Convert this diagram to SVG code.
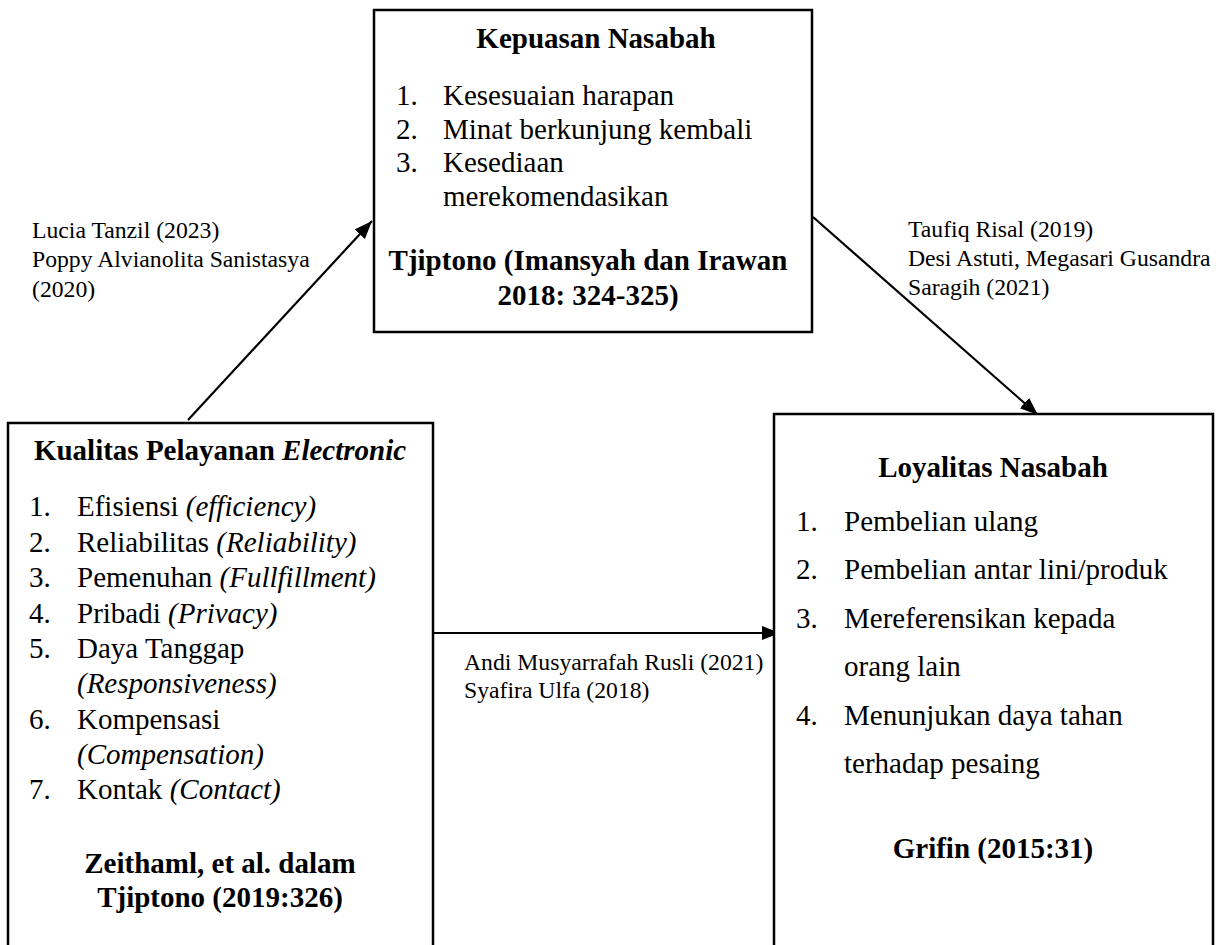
<svg xmlns="http://www.w3.org/2000/svg" width="1228" height="945" viewBox="0 0 1228 945">
<style>
text{font-family:"Liberation Serif","Times New Roman",serif;fill:#000}
.t{font-size:29px;font-weight:bold;text-anchor:middle}
.l{font-size:29px}
.s{font-size:23.7px}
.i{font-style:italic}
.box{fill:#fff;stroke:#000;stroke-width:2.5}
.c{stroke:#000;stroke-width:2.2;fill:none}
</style>
<defs>
<marker id="ah" markerUnits="userSpaceOnUse" markerWidth="20" markerHeight="16" refX="18" refY="7" orient="auto">
<path d="M0,0 L18,7 L0,14 Z" fill="#000"/>
</marker>
</defs>
<rect width="1228" height="945" fill="#fff"/>
<g id="connectors">
<line class="c" x1="188" y1="420" x2="372" y2="221" marker-end="url(#ah)"/>
<line class="c" x1="813" y1="217" x2="1038" y2="415" marker-end="url(#ah)"/>
<line class="c" x1="433" y1="633" x2="780" y2="633" marker-end="url(#ah)"/>
</g>
<g id="label-1">
<text class="s" x="32" y="238">Lucia Tanzil (2023)</text>
<text class="s" x="32" y="267">Poppy Alvianolita Sanistasya</text>
<text class="s" x="32" y="297">(2020)</text>
</g>
<g id="label-2">
<text class="s" x="908" y="237">Taufiq Risal (2019)</text>
<text class="s" x="908" y="266">Desi Astuti, Megasari Gusandra</text>
<text class="s" x="908" y="295">Saragih (2021)</text>
</g>
<g id="label-3">
<text class="s" x="464" y="670">Andi Musyarrafah Rusli (2021)</text>
<text class="s" x="464" y="698">Syafira Ulfa (2018)</text>
</g>
<g id="node-kepuasan">
<rect class="box" x="374" y="10" width="438" height="322"/>
<text class="t" x="596" y="48">Kepuasan Nasabah</text>
<text class="l" x="396" y="105">1.</text><text class="l" x="443" y="105">Kesesuaian harapan</text>
<text class="l" x="396" y="139">2.</text><text class="l" x="443" y="139">Minat berkunjung kembali</text>
<text class="l" x="396" y="172">3.</text><text class="l" x="443" y="172">Kesediaan</text>
<text class="l" x="443" y="206">merekomendasikan</text>
<text class="t" x="588" y="270">Tjiptono (Imansyah dan Irawan</text>
<text class="t" x="588" y="305">2018: 324-325)</text>
</g>
<g id="node-kualitas">
<path class="box" d="M8,950 L8,423 L433,423 L433,950"/>
<text class="t" x="220" y="460">Kualitas Pelayanan <tspan class="i">Electronic</tspan></text>
<text class="l" x="29" y="516">1.</text><text class="l" x="77" y="516">Efisiensi <tspan class="i">(efficiency)</tspan></text>
<text class="l" x="29" y="552">2.</text><text class="l" x="77" y="552">Reliabilitas <tspan class="i">(Reliability)</tspan></text>
<text class="l" x="29" y="587">3.</text><text class="l" x="77" y="587">Pemenuhan <tspan class="i">(Fullfillment)</tspan></text>
<text class="l" x="29" y="623">4.</text><text class="l" x="77" y="623">Pribadi <tspan class="i">(Privacy)</tspan></text>
<text class="l" x="29" y="658">5.</text><text class="l" x="77" y="658">Daya Tanggap</text>
<text class="l i" x="77" y="693">(Responsiveness)</text>
<text class="l" x="29" y="729">6.</text><text class="l" x="77" y="729">Kompensasi</text>
<text class="l i" x="77" y="764">(Compensation)</text>
<text class="l" x="29" y="799">7.</text><text class="l" x="77" y="799">Kontak <tspan class="i">(Contact)</tspan></text>
<text class="t" x="220" y="873">Zeithaml, et al. dalam</text>
<text class="t" x="220" y="907">Tjiptono (2019:326)</text>
</g>
<g id="node-loyalitas">
<path class="box" d="M774,950 L774,414 L1213,414 L1213,950"/>
<text class="t" x="993" y="477">Loyalitas Nasabah</text>
<text class="l" x="796" y="531">1.</text><text class="l" x="844" y="531">Pembelian ulang</text>
<text class="l" x="796" y="579">2.</text><text class="l" x="844" y="579">Pembelian antar lini/produk</text>
<text class="l" x="796" y="628">3.</text><text class="l" x="844" y="628">Mereferensikan kepada</text>
<text class="l" x="844" y="676">orang lain</text>
<text class="l" x="796" y="725">4.</text><text class="l" x="844" y="725">Menunjukan daya tahan</text>
<text class="l" x="844" y="773">terhadap pesaing</text>
<text class="t" x="993" y="858">Grifin (2015:31)</text>
</g>
</svg>
